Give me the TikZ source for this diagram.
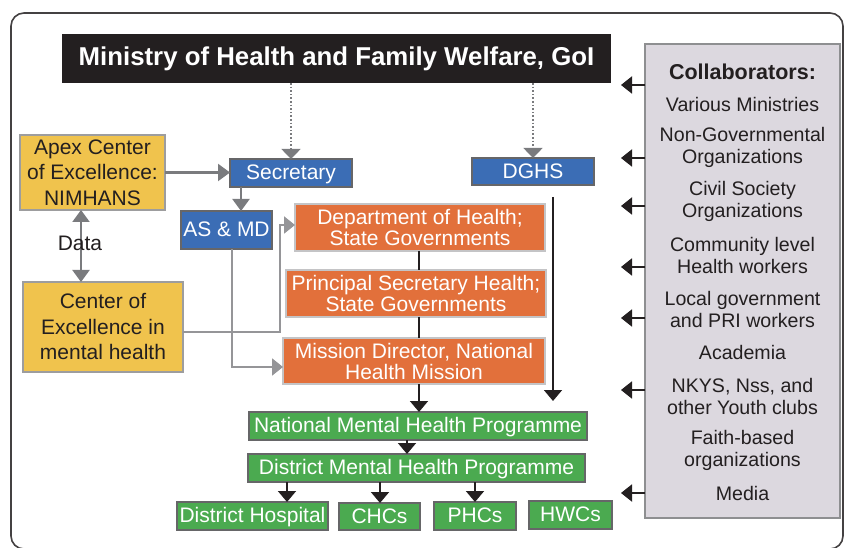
\documentclass[tikz,border=0pt]{standalone}
\usepackage{fontspec}
\setmainfont{Liberation Sans}
\usetikzlibrary{arrows.meta,calc}
\definecolor{inkc}{HTML}{231F20}
\definecolor{blueb}{HTML}{3B6DB5}
\definecolor{orangeb}{HTML}{E2703B}
\definecolor{greenb}{HTML}{4BAA50}
\definecolor{yellowb}{HTML}{F0C34D}
\definecolor{collabf}{HTML}{DCD8DF}
\definecolor{grayln}{HTML}{7A7B7E}
\definecolor{darkbd}{HTML}{666668}
\definecolor{lightbd}{HTML}{C4C4C6}
\begin{document}
\begin{tikzpicture}[x=1pt,y=-1pt,
  every node/.style={inner sep=0pt,outer sep=0pt,align=center},
  bodyfont/.style={font=\fontsize{21}{21}\selectfont},
  oneline/.style={text height=16.5pt,text depth=3pt},
  titlebox/.style={fill=inkc,text=white,font=\fontsize{25.8}{28}\selectfont\bfseries},
  bluebox/.style={fill=blueb,draw=darkbd,line width=2.2pt,text=white,bodyfont,oneline},
  orangebox/.style={fill=orangeb,draw=lightbd,line width=2.2pt,text=white,bodyfont},
  greenbox/.style={fill=greenb,draw=darkbd,line width=2.2pt,text=white,bodyfont,oneline},
  yellowbox/.style={fill=yellowb,draw=lightbd!80!black,line width=2.2pt,text=inkc,font=\fontsize{21}{25.5}\selectfont},
  collabbox/.style={fill=collabf,draw=grayln!85!white,line width=2.4pt},
  collabtext/.style={text=inkc,font=\fontsize{19.6}{22}\selectfont},
  grayarrow/.style={draw=grayln,line width=2.2pt,-{Triangle[width=17pt,length=12pt]}},
  grayarrowlt/.style={draw=grayln!80!white,line width=2pt,-{Triangle[width=17pt,length=11pt]}},
  dotarrow/.style={draw=grayln,line width=1.6pt,dotted,-{Triangle[width=19pt,length=10pt,fill=grayln]}},
  blackline/.style={draw=inkc,line width=1.6pt},
  blackarrow/.style={draw=inkc,line width=1.8pt,-{Triangle[width=18pt,length=11pt]}},
  collabarrow/.style={draw=inkc,line width=2pt,-{Triangle[width=17pt,length=11pt]}}
]
\useasboundingbox (0,0) rectangle (844,548);
\draw[inkc!85!white,line width=1.6pt,rounded corners=13pt] (11,13) rectangle (843,549);

% title
\node[titlebox,minimum width=549pt,minimum height=49pt] (title) at (336.5,58.5) {Ministry of Health and Family Welfare, GoI};

% collaborators
\node[collabbox,minimum width=195pt,minimum height=474pt] (collab) at (742.5,281) {};
\node[collabtext,font=\fontsize{21.5}{22}\selectfont\bfseries] (ct0) at (742.5,72) {Collaborators:};
\node[collabtext] (ct1) at (742.5,104) {Various Ministries};
\node[collabtext] (ct2) at (742.5,147) {Non-Governmental\\Organizations};
\node[collabtext] (ct3) at (742.5,201) {Civil Society\\Organizations};
\node[collabtext] (ct4) at (742.5,255) {Community level\\Health workers};
\node[collabtext] (ct5) at (742.5,309) {Local government\\and PRI workers};
\node[collabtext] (ct6) at (742.5,352) {Academia};
\node[collabtext] (ct7) at (742.5,396) {NKYS, Nss, and\\other Youth clubs};
\node[collabtext] (ct8) at (742.5,450) {Faith-based\\organizations};
\node[collabtext] (ct9) at (742.5,493) {Media};

\foreach \yy [count=\i] in {85,158,206,267,318,390,493}{
  \coordinate (tip\i) at (621,\yy);
  \draw[collabarrow] (collab.west |- tip\i) -- (tip\i);
}

% left yellow boxes
\node[yellowbox,minimum width=145pt,minimum height=75pt] (apex) at (92.5,172.5) {Apex Center\\of Excellence:\\NIMHANS};
\node[yellowbox,minimum width=160pt,minimum height=90pt] (coe) at (103,327) {Center of\\Excellence in\\mental health};
\draw[draw=grayln,line width=2.2pt,{Triangle[width=17pt,length=12pt]}-{Triangle[width=17pt,length=12pt]}] (apex.south -| 81,0) -- (coe.north -| 81,0);
\node[bodyfont,text=inkc] (data) at (80,243) {Data};

% blue boxes
\node[bluebox,minimum width=122pt,minimum height=28pt] (sec) at (291,173) {Secretary};
\node[bluebox,minimum width=122pt,minimum height=27pt] (dghs) at (533,171.5) {DGHS};
\node[bluebox,minimum width=91pt,minimum height=38pt] (asmd) at (226.5,230) {AS \& MD};

% orange boxes
\node[orangebox,minimum width=250pt,minimum height=47pt] (doh) at (420,227.5) {Department of Health;\\State Governments};
\node[orangebox,minimum width=260pt,minimum height=47pt] (psh) at (416,293.5) {Principal Secretary Health;\\State Governments};
\node[orangebox,minimum width=262pt,minimum height=46pt] (mdn) at (414,361) {Mission Director, National\\Health Mission};

% green boxes
\node[greenbox,minimum width=338pt,minimum height=28pt] (nmhp) at (418,426) {National Mental Health Programme};
\node[greenbox,minimum width=337pt,minimum height=28pt] (dmhp) at (416.5,468) {District Mental Health Programme};
\node[greenbox,minimum width=151pt,minimum height=28pt] (dh) at (252.5,516) {District Hospital};
\node[greenbox,minimum width=81pt,minimum height=27pt] (chc) at (379.5,516.5) {CHCs};
\node[greenbox,minimum width=82pt,minimum height=28pt] (phc) at (475,516) {PHCs};
\node[greenbox,minimum width=83pt,minimum height=28pt] (hwc) at (570.5,515) {HWCs};

% dotted from title
\draw[dotarrow] (title.south -| sec.north) -- (sec.north);
\draw[dotarrow] (title.south -| dghs.north) -- (dghs.north);

% gray connectors
\draw[grayarrow] (apex.east) -- (apex.east -| sec.west);
\draw[grayarrow] (sec.south -| 241,0) -- (asmd.north -| 241,0);
\coordinate (asbend) at (232,367);
\draw[grayarrowlt] (asmd.south -| asbend) -- (asbend) -- (mdn.west |- asbend);
\coordinate (cbend1) at (280,332);
\coordinate (cbend2) at (280,225);
\draw[grayarrowlt] (coe.east |- cbend1) -- (cbend1) -- (cbend2) -- (doh.west |- cbend2);

% black connectors
\draw[blackline] (doh.south -| 419,0) -- (psh.north -| 419,0);
\draw[blackline] (psh.south -| 419,0) -- (mdn.north -| 419,0);
\draw[blackarrow] (mdn.south -| 419,0) -- (nmhp.north -| 419,0);
\coordinate (dgtop) at (553,197);
\coordinate (dgtip) at (553,401);
\draw[blackarrow] (dgtop) -- (dgtip);
\draw[blackarrow] (nmhp.south -| 407,0) -- (dmhp.north -| 407,0);
\draw[blackarrow] (dmhp.south -| 287,0) -- (dh.north -| 287,0);
\draw[blackarrow] (dmhp.south -| 380,0) -- (chc.north -| 380,0);
\draw[blackarrow] (dmhp.south -| 475,0) -- (phc.north -| 475,0);
\end{tikzpicture}
\end{document}
